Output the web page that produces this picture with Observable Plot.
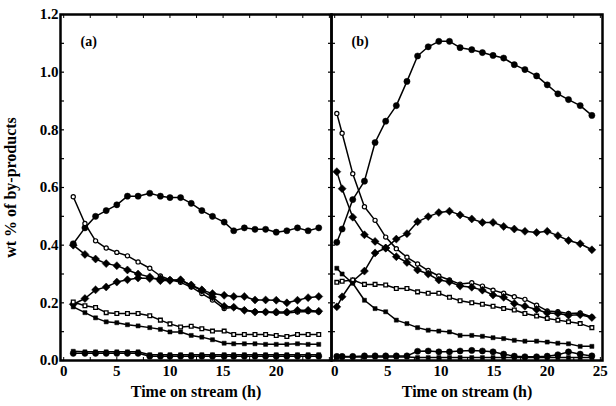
<!DOCTYPE html>
<html>
<head>
<meta charset="utf-8">
<script src="https://cdn.jsdelivr.net/npm/d3@7"></script>
<script src="https://cdn.jsdelivr.net/npm/@observablehq/plot@0.6"></script>
<style>
  html, body { margin: 0; padding: 0; background: #fff; }
  #chart svg { font-family: "Liberation Serif", "Times New Roman", serif; }
</style>
</head>
<body>
<div id="chart"></div>
<script>
// ---- data ----
const panels = ["a", "b"];
const panelLabels = ["(a)", "(b)"];
const xTicksA = [0, 5, 10, 15, 20];
const xTicksB = [0, 5, 10, 15, 20, 25];
const yTicks = [0, 0.2, 0.4, 0.6, 0.8, 1.0, 1.2];
const xTitle = "Time on stream (h)";
const yTitle = "wt % of by-products";

const timeA = [0.9, 2, 3, 4, 5, 6, 7, 8.1, 9.1, 10, 11, 12, 13, 14, 15.1, 16, 17, 18, 19, 20, 21, 22, 23, 24];
const filledCircleA = [0.405, 0.46, 0.50, 0.52, 0.54, 0.57, 0.57, 0.58, 0.57, 0.565, 0.565, 0.545, 0.52, 0.50, 0.48, 0.45, 0.46, 0.455, 0.455, 0.445, 0.45, 0.46, 0.45, 0.46];
const openCircleA = [0.568, 0.475, 0.415, 0.39, 0.375, 0.363, 0.342, 0.32, 0.293, 0.28, 0.271, 0.255, 0.232, 0.21, 0.18, 0.185, 0.175, 0.17, 0.168, 0.165, 0.165, 0.168, 0.17, 0.168];
const decDiamondA = [0.40, 0.368, 0.352, 0.336, 0.329, 0.314, 0.30, 0.29, 0.277, 0.278, 0.278, 0.262, 0.245, 0.232, 0.226, 0.222, 0.222, 0.21, 0.21, 0.209, 0.20, 0.209, 0.218, 0.222];
const incDiamondA = [0.195, 0.215, 0.245, 0.255, 0.272, 0.28, 0.286, 0.284, 0.284, 0.278, 0.28, 0.26, 0.243, 0.22, 0.188, 0.185, 0.174, 0.168, 0.168, 0.168, 0.168, 0.174, 0.174, 0.171];
const openSquareA = [0.203, 0.19, 0.184, 0.166, 0.163, 0.163, 0.163, 0.155, 0.14, 0.127, 0.116, 0.119, 0.11, 0.102, 0.102, 0.09, 0.09, 0.09, 0.09, 0.087, 0.083, 0.09, 0.09, 0.09];
const filledSquareA = [0.186, 0.166, 0.148, 0.134, 0.131, 0.124, 0.12, 0.114, 0.108, 0.099, 0.099, 0.087, 0.081, 0.072, 0.06, 0.058, 0.058, 0.058, 0.056, 0.056, 0.056, 0.058, 0.056, 0.056];
const bottomSquareA = [0.032, 0.03, 0.03, 0.03, 0.03, 0.03, 0.03, 0.02, 0.02, 0.02, 0.02, 0.02, 0.02, 0.02, 0.02, 0.02, 0.02, 0.02, 0.02, 0.02, 0.02, 0.02, 0.02, 0.02];
const bottomCircleA = [0.025, 0.025, 0.025, 0.025, 0.025, 0.025, 0.025, 0.015, 0.015, 0.015, 0.015, 0.015, 0.015, 0.015, 0.015, 0.015, 0.015, 0.015, 0.015, 0.015, 0.015, 0.015, 0.015, 0.015];

const timeB = [0.2, 0.7, 1.7, 2.8, 3.8, 4.8, 5.8, 6.8, 7.8, 8.8, 9.8, 10.8, 11.8, 12.9, 13.9, 14.9, 15.9, 16.9, 17.9, 19, 20, 21, 22, 23.1, 24.2];
const filledCircleB = [0.41, 0.456, 0.558, 0.622, 0.756, 0.83, 0.884, 0.968, 1.056, 1.088, 1.107, 1.107, 1.085, 1.078, 1.068, 1.058, 1.049, 1.026, 1.009, 0.987, 0.956, 0.925, 0.905, 0.884, 0.85];
const openCircleB = [0.857, 0.788, 0.648, 0.533, 0.486, 0.428, 0.388, 0.358, 0.335, 0.312, 0.293, 0.279, 0.265, 0.27, 0.258, 0.244, 0.233, 0.221, 0.212, 0.192, 0.172, 0.169, 0.163, 0.165, 0.151];
const decDiamondB = [0.655, 0.596, 0.497, 0.436, 0.413, 0.39, 0.36, 0.34, 0.314, 0.30, 0.279, 0.273, 0.258, 0.254, 0.244, 0.227, 0.219, 0.198, 0.188, 0.177, 0.165, 0.163, 0.157, 0.159, 0.149];
const incDiamondB = [0.186, 0.221, 0.275, 0.31, 0.373, 0.39, 0.421, 0.44, 0.481, 0.499, 0.513, 0.518, 0.505, 0.491, 0.479, 0.479, 0.465, 0.456, 0.448, 0.444, 0.448, 0.433, 0.416, 0.405, 0.384];
const openSquareB = [0.271, 0.275, 0.279, 0.264, 0.264, 0.262, 0.25, 0.25, 0.238, 0.233, 0.233, 0.219, 0.207, 0.20, 0.195, 0.188, 0.18, 0.175, 0.163, 0.154, 0.146, 0.14, 0.134, 0.128, 0.114];
const filledSquareB = [0.32, 0.30, 0.268, 0.209, 0.18, 0.169, 0.14, 0.128, 0.114, 0.105, 0.102, 0.099, 0.087, 0.087, 0.084, 0.079, 0.076, 0.07, 0.067, 0.067, 0.064, 0.06, 0.058, 0.049, 0.049];
const bottomSquareB = [0.012, 0.012, 0.012, 0.012, 0.012, 0.012, 0.012, 0.012, 0.01, 0.01, 0.01, 0.01, 0.01, 0.01, 0.01, 0.01, 0.01, 0.01, 0.01, 0.01, 0.01, 0.01, 0.01, 0.01, 0.01];
const bottomCircleB = [0.014, 0.014, 0.014, 0.016, 0.016, 0.016, 0.016, 0.016, 0.032, 0.033, 0.03, 0.03, 0.033, 0.035, 0.033, 0.03, 0.022, 0.015, 0.013, 0.013, 0.015, 0.02, 0.03, 0.022, 0.016];

// ---- build tables ----
const rows = [];
function add(panel, key, style, times, values) {
  times.forEach((t, i) => rows.push({panel, key: panel + key, style, t, v: values[i]}));
}
add("a", "fc", "fc", timeA, filledCircleA);
add("a", "oc", "oc", timeA, openCircleA);
add("a", "dd", "fd", timeA, decDiamondA);
add("a", "id", "fd", timeA, incDiamondA);
add("a", "os", "os", timeA, openSquareA);
add("a", "fs", "fs", timeA, filledSquareA);
add("a", "bc", "fc", timeA, bottomCircleA);
add("a", "bs", "fs", timeA, bottomSquareA);
add("b", "fc", "fc", timeB, filledCircleB);
add("b", "oc", "oc", timeB, openCircleB);
add("b", "dd", "fd", timeB, decDiamondB);
add("b", "id", "fd", timeB, incDiamondB);
add("b", "os", "os", timeB, openSquareB);
add("b", "fs", "fs", timeB, filledSquareB);
add("b", "bc", "fc", timeB, bottomCircleB);
add("b", "bs", "fs", timeB, bottomSquareB);

const xTickRows = [
  ...xTicksA.map(t => ({panel: "a", t})),
  ...xTicksB.map(t => ({panel: "b", t}))
];
const labelRows = panels.map((p, i) => ({panel: p, label: panelLabels[i]}));
const by = s => rows.filter(d => d.style === s);

const chart = Plot.plot({
  width: 616,
  height: 406,
  marginLeft: 60,
  marginRight: 14,
  marginTop: 14,
  marginBottom: 46,
  style: {fontFamily: "Liberation Serif, serif", fontWeight: "bold", fontSize: "12px", color: "black"},
  fx: {domain: panels, padding: 0, axis: null},
  x: {domain: [-0.3, 25.2]},
  y: {domain: [0, 1.2]},
  marks: [
    Plot.axisY(yTicks, {
      tickFormat: d3.format(".1f"), tickSize: 0, tickPadding: 2,
      fontSize: 15, fontWeight: "bold", label: null
    }),
    Plot.text([{panel: "a"}], {fx: "panel", frameAnchor: "left", textAnchor: "middle", rotate: -90, dx: -50, text: () => yTitle, fontSize: 16, fontWeight: "bold"}),
    Plot.axisY(d3.range(0, 1.21, 0.1), {anchor: "left", tickSize: -4, text: null, label: null, facetAnchor: null, strokeWidth: 1.2}),
    Plot.axisY(d3.range(0, 1.21, 0.1), {anchor: "right", tickSize: -4, text: null, label: null, facetAnchor: null, strokeWidth: 1.2}),
    Plot.axisX(d3.range(0, 25.1, 2.5), {anchor: "bottom", tickSize: -3, text: null, label: null, facetAnchor: null}),
    Plot.axisX(d3.range(0, 25.1, 2.5), {anchor: "top", tickSize: -3, text: null, label: null, facetAnchor: null}),
    Plot.frame({stroke: "black", strokeWidth: 2.5}),
    Plot.text(xTickRows, {fx: "panel", x: "t", text: d => String(d.t), frameAnchor: "bottom", dy: 15, fontSize: 15, fontWeight: "bold"}),
    Plot.text(labelRows, {fx: "panel", frameAnchor: "bottom", dy: 36, fontSize: 16, fontWeight: "bold", text: () => xTitle}),
    Plot.text(labelRows, {fx: "panel", text: "label", frameAnchor: "top-left", dx: 20, dy: 22, fontSize: 14, fontWeight: "bold"}),
    Plot.line(rows, {fx: "panel", x: "t", y: "v", z: "key", stroke: "black", strokeWidth: 1.5}),
    Plot.dot(by("fc"), {fx: "panel", x: "t", y: "v", r: 3.1, fill: "black", stroke: "black", strokeWidth: 0.5}),
    Plot.dot(by("oc"), {fx: "panel", x: "t", y: "v", r: 2.1, fill: "white", stroke: "black", strokeWidth: 1.2}),
    Plot.dot(by("fd"), {fx: "panel", x: "t", y: "v", r: 3.6, symbol: "diamond2", fill: "black", stroke: "black", strokeWidth: 0.5}),
    Plot.dot(by("os"), {fx: "panel", x: "t", y: "v", r: 2.1, symbol: "square", fill: "white", stroke: "black", strokeWidth: 1.3}),
    Plot.dot(by("fs"), {fx: "panel", x: "t", y: "v", r: 2.3, symbol: "square", fill: "black", stroke: "black", strokeWidth: 0.5})
  ]
});
document.getElementById("chart").appendChild(chart);
</script>
</body>
</html>
